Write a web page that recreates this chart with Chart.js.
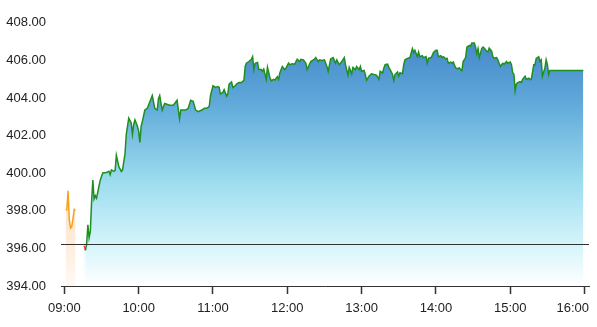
<!DOCTYPE html>
<html>
<head>
<meta charset="utf-8">
<script src="https://cdn.jsdelivr.net/npm/chart.js@4.4.1/dist/chart.umd.min.js"></script>
<style>
  html, body { margin: 0; padding: 0; background: #fff; }
  #wrap { width: 597px; height: 327px; }
</style>
</head>
<body>
<div id="wrap"><canvas id="price-chart"></canvas></div>
<script>
'use strict';

// Pre-market trades (orange)
const preTimes = ['09:01', '09:02', '09:03', '09:04', '09:05', '09:06', '09:07', '09:08', '09:09'];
const prePrices = [398.05, 398.05, 399.06, 397.52, 397.08, 397.17, 397.60, 398.08, 398.03];

// Regular session
const sessionTimes = [
    '09:16', '09:17', '09:18', '09:19', '09:20', '09:21', '09:22', '09:23', '09:24', '09:25', '09:26', '09:28', '09:29',
    '09:31', '09:34', '09:36', '09:37', '09:38', '09:40', '09:41', '09:42', '09:44', '09:46', '09:47', '09:49', '09:50',
    '09:52', '09:54', '09:55', '09:56', '09:57', '09:59', '10:00', '10:01', '10:02', '10:03', '10:05', '10:07', '10:08',
    '10:10', '10:11', '10:13', '10:15', '10:16', '10:17', '10:19', '10:21', '10:25', '10:28', '10:31', '10:33', '10:34',
    '10:38', '10:40', '10:42', '10:44', '10:46', '10:48', '10:51', '10:53', '10:55', '10:57', '10:58', '11:00', '11:02',
    '11:04', '11:05', '11:06', '11:08', '11:09', '11:11', '11:12', '11:13', '11:15', '11:16', '11:18', '11:19', '11:21',
    '11:23', '11:25', '11:26', '11:27', '11:29', '11:31', '11:32', '11:33', '11:34', '11:36', '11:37', '11:39', '11:40',
    '11:41', '11:43', '11:44', '11:46', '11:47', '11:49', '11:50', '11:52', '11:53', '11:54', '11:56', '11:58', '11:59',
    '12:01', '12:02', '12:04', '12:06', '12:08', '12:10', '12:11', '12:13', '12:15', '12:16', '12:19', '12:21', '12:22',
    '12:23', '12:25', '12:26', '12:28', '12:30', '12:32', '12:33', '12:35', '12:37', '12:39', '12:40', '12:42', '12:44',
    '12:46', '12:47', '12:49', '12:50', '12:52', '12:53', '12:55', '12:56', '12:58', '12:59', '13:00', '13:02', '13:03',
    '13:04', '13:06', '13:08', '13:10', '13:12', '13:14', '13:15', '13:17', '13:18', '13:19', '13:21', '13:22', '13:23',
    '13:25', '13:26', '13:27', '13:29', '13:30', '13:31', '13:33', '13:34', '13:35', '13:37', '13:39', '13:41', '13:42',
    '13:43', '13:45', '13:46', '13:47', '13:49', '13:50', '13:52', '13:53', '13:54', '13:56', '13:57', '13:58', '14:00',
    '14:01', '14:02', '14:04', '14:05', '14:06', '14:08', '14:09', '14:10', '14:12', '14:13', '14:14', '14:16', '14:17',
    '14:19', '14:20', '14:21', '14:22', '14:24', '14:25', '14:27', '14:28', '14:29', '14:31', '14:32', '14:33', '14:34',
    '14:35', '14:37', '14:38', '14:39', '14:41', '14:42', '14:43', '14:45', '14:46', '14:47', '14:49', '14:50', '14:52',
    '14:53', '14:54', '14:55', '14:57', '14:58', '15:00', '15:01', '15:02', '15:03', '15:04', '15:05', '15:06', '15:08',
    '15:09', '15:10', '15:12', '15:13', '15:15', '15:16', '15:17', '15:19', '15:20', '15:21', '15:23', '15:24', '15:25',
    '15:26', '15:28', '15:29', '15:30', '15:31', '15:32', '15:59'
];
const sessionPrices = [
    396.15, 395.90, 396.23, 397.26, 396.57, 396.91, 398.46, 399.63, 398.63, 398.81, 398.67, 399.32, 399.63,
    400.01, 400.04, 400.10, 399.92, 400.18, 400.10, 400.15, 400.95, 400.35, 400.10, 400.18, 401.04, 402.07,
    402.93, 402.67, 402.07, 402.59, 402.84, 402.50, 402.24, 401.64, 402.50, 402.76, 403.36, 403.45, 403.62,
    403.96, 404.13, 403.45, 403.36, 403.96, 404.13, 403.36, 403.71, 403.62, 403.62, 403.88, 402.90, 403.36,
    403.36, 403.45, 403.88, 403.82, 403.36, 403.27, 403.36, 403.45, 403.45, 403.55, 404.13, 404.65, 404.56,
    404.61, 404.56, 404.22, 404.30, 404.44, 404.10, 404.22, 404.74, 404.86, 404.56, 404.65, 404.74, 404.82,
    404.82, 404.94, 405.68, 405.85, 405.94, 406.06, 406.20, 405.51, 405.85, 405.89, 405.51, 405.51, 405.42,
    405.54, 404.99, 405.64, 405.08, 404.91, 404.99, 404.96, 405.13, 404.99, 405.34, 405.68, 405.51, 405.60,
    405.85, 405.77, 405.82, 405.80, 406.06, 405.94, 406.06, 406.03, 405.85, 405.51, 405.94, 406.03, 406.06,
    406.15, 405.94, 406.03, 405.99, 406.03, 405.68, 405.42, 406.08, 406.15, 405.85, 406.03, 405.77, 405.94,
    406.15, 405.77, 405.22, 405.63, 405.29, 405.63, 405.51, 405.68, 405.51, 405.68, 405.42, 405.46, 405.25,
    404.94, 405.16, 405.29, 405.25, 405.22, 404.99, 405.42, 405.34, 405.60, 405.77, 405.80, 405.63, 405.51,
    405.25, 404.94, 405.25, 405.39, 405.16, 405.34, 405.29, 405.77, 406.03, 406.11, 406.15, 406.63, 406.42,
    406.54, 406.20, 406.45, 406.20, 406.25, 406.15, 406.20, 405.85, 406.11, 406.15, 406.25, 406.42, 406.54,
    406.54, 406.20, 406.25, 406.15, 406.20, 406.08, 406.11, 405.85, 405.91, 405.85, 405.91, 405.60, 405.56,
    405.60, 405.51, 405.46, 405.94, 406.15, 406.71, 406.80, 406.76, 406.93, 406.93, 406.71, 406.37, 406.63,
    406.15, 406.63, 406.71, 406.66, 406.49, 406.45, 406.66, 406.49, 406.20, 406.11, 406.15, 406.03, 405.68,
    405.77, 405.85, 405.80, 405.94, 405.85, 405.91, 405.77, 405.34, 405.25, 404.39, 404.74, 404.82, 404.87,
    404.82, 404.99, 405.16, 404.99, 405.05, 404.99, 404.99, 405.77, 405.77, 406.11, 406.20, 405.94, 406.03,
    405.16, 405.60, 406.03, 405.77, 405.25, 405.46, 405.46
];

const prevClose = 396.21;
const hourTicks = ['09:00', '10:00', '11:00', '12:00', '13:00', '14:00', '15:00', '16:00'];
const priceTicks = [394, 396, 398, 400, 402, 404, 406, 408];

const GREEN = '#1f8f1f';
const RED = '#ff4a4a';
const ORANGE = '#f7a21b';
const AXIS = '#333333';
const FONT = { family: 'Liberation Sans, Arial, sans-serif', size: 13 };

function toMinutes(t) {
    const [h, m] = t.split(':').map(Number);
    return h * 60 + m;
}

function fmtTime(v) {
    const h = Math.floor(v / 60);
    const m = Math.round(v % 60);
    return String(h).padStart(2, '0') + ':' + String(m).padStart(2, '0');
}

function zip(times, prices) {
    return times.map((t, i) => ({ x: toMinutes(t), y: prices[i] }));
}

/**
 * Vertical gradient over the whole chart area.
 */
function areaGradient(stops) {
    return function(context) {
        const { chart } = context;
        const area = chart.chartArea;
        if (!area) {
            return null;
        }
        const g = chart.ctx.createLinearGradient(0, area.top, 0, area.bottom);
        stops.forEach(s => g.addColorStop(s[0], s[1]));
        return g;
    };
}

// previous close line, drawn through the y scale
const prevClosePlugin = {
    id: 'prevClose',
    afterDatasetsDraw(chart) {
        const { ctx, chartArea, scales } = chart;
        const y = Math.round(scales.y.getPixelForValue(prevClose)) + 0.5;
        ctx.save();
        ctx.strokeStyle = AXIS;
        ctx.lineWidth = 1;
        ctx.beginPath();
        ctx.moveTo(chartArea.left, y);
        ctx.lineTo(chartArea.right, y);
        ctx.stroke();
        ctx.restore();
    }
};

// hour labels, kept inside the chart's right edge like the original
const hourLabelPlugin = {
    id: 'hourLabels',
    afterDraw(chart) {
        const { ctx, chartArea, scales } = chart;
        const xs = scales.x;
        ctx.save();
        ctx.font = FONT.size + 'px ' + FONT.family;
        ctx.fillStyle = '#222';
        ctx.textAlign = 'center';
        ctx.textBaseline = 'middle';
        xs.ticks.forEach(t => {
            const label = fmtTime(t.value);
            const half = ctx.measureText(label).width / 2;
            let x = xs.getPixelForValue(t.value);
            x = Math.min(x, chartArea.right - half);
            ctx.fillText(label, x, xs.bottom + 14);
        });
        ctx.restore();
    }
};

const ctx = document.getElementById('price-chart');

new Chart(ctx, {
    type: 'line',
    data: {
        datasets: [
            {
                label: 'Pre-market',
                data: zip(preTimes, prePrices),
                borderColor: ORANGE,
                borderWidth: 1.5,
                backgroundColor: areaGradient([[0, '#fbd0a2'], [0.65, '#fcdfc2'], [1, '#fff9f3']]),
                fill: 'start',
                pointRadius: 0,
                tension: 0
            },
            {
                label: 'Session',
                data: zip(sessionTimes, sessionPrices),
                borderColor: GREEN,
                borderWidth: 1.5,
                segment: {
                    borderColor: c => (c.p1.parsed.y < prevClose ? RED : GREEN)
                },
                backgroundColor: areaGradient([
                    [0, '#3d7fc4'],
                    [0.3, '#5fa8d9'],
                    [0.6, '#9cdcef'],
                    [0.85, '#d6f5fb'],
                    [1, '#ffffff']
                ]),
                fill: 'start',
                pointRadius: 0,
                tension: 0
            }
        ]
    },
    options: {
        responsive: true,
        maintainAspectRatio: false,
        animation: false,
        layout: {
            padding: { left: 6, right: 8, top: 15, bottom: 33 }
        },
        plugins: {
            legend: { display: false },
            tooltip: { enabled: false }
        },
        scales: {
            x: {
                type: 'linear',
                min: 537.3,
                max: 963.6,
                afterBuildTicks: s => {
                    s.ticks = hourTicks.map(t => ({ value: toMinutes(t) }));
                },
                ticks: { display: false },
                grid: {
                    display: true,
                    drawOnChartArea: false,
                    drawTicks: true,
                    tickLength: 8,
                    tickWidth: 1.5,
                    color: AXIS
                },
                border: { display: true, color: AXIS, width: 1 }
            },
            y: {
                min: priceTicks[0],
                max: priceTicks[priceTicks.length - 1],
                afterBuildTicks: s => {
                    s.ticks = priceTicks.map(v => ({ value: v }));
                },
                afterFit: s => {
                    s.width = 55;
                },
                ticks: {
                    padding: 15,
                    color: '#222',
                    font: FONT,
                    callback: v => Number(v).toFixed(2)
                },
                grid: { display: false, drawTicks: false, tickLength: 0 },
                border: { display: false }
            }
        }
    },
    plugins: [prevClosePlugin, hourLabelPlugin]
});
</script>
</body>
</html>
